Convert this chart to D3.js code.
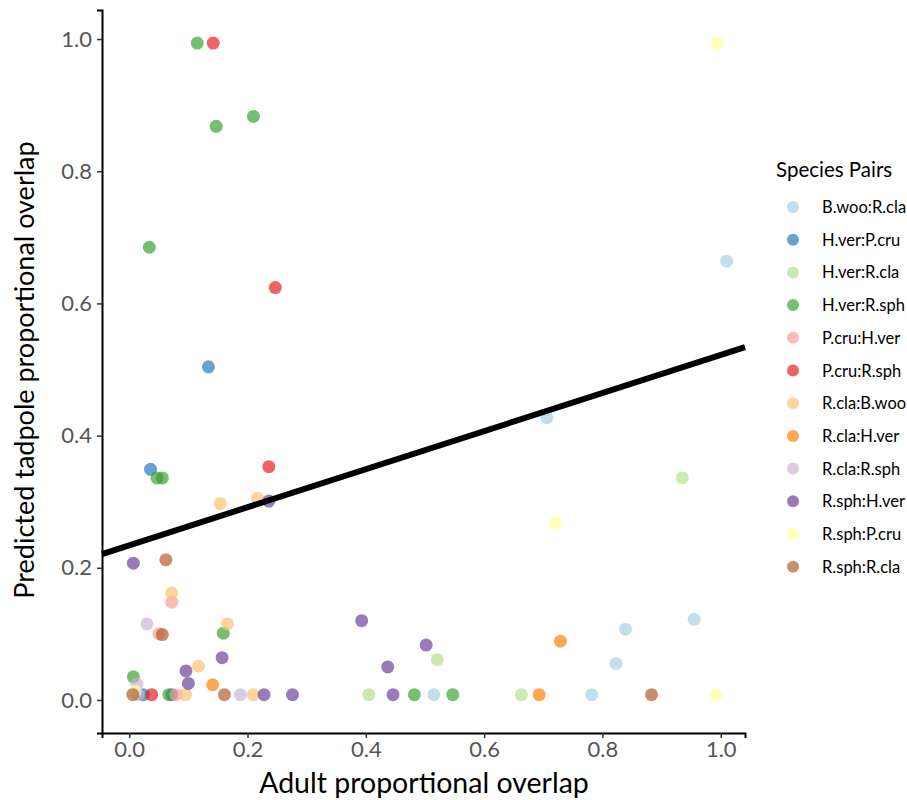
<!DOCTYPE html>
<html>
<head>
<meta charset="utf-8">
<script src="https://cdn.jsdelivr.net/npm/d3@7"></script>
<style>
    body { margin: 0; background: #fff; }
    text { font-family: Lato, "Open Sans", sans-serif; }
</style>
</head>
<body>
<svg id="chart" width="907" height="800"></svg>
<script>
const pairs = [
    "B.woo:R.cla", "H.ver:P.cru", "H.ver:R.cla", "H.ver:R.sph",
    "P.cru:H.ver", "P.cru:R.sph", "R.cla:B.woo", "R.cla:H.ver",
    "R.cla:R.sph", "R.sph:H.ver", "R.sph:P.cru", "R.sph:R.cla"
];
const pairColors = [
    "#a6cee3", "#1f78b4", "#b2df8a", "#33a02c", "#fb9a99", "#e31a1c",
    "#fdbf6f", "#ff7f00", "#cab2d6", "#6a3d9a", "#ffff99", "#b15928"
];
const xTicks = [0, 0.2, 0.4, 0.6, 0.8, 1.0];
const yTicks = [0, 0.2, 0.4, 0.6, 0.8, 1.0];

// [pair, adult overlap, predicted tadpole overlap]
const observations = [
    ["B.woo:R.cla", 1.01, 0.664], ["B.woo:R.cla", 0.706, 0.427], ["B.woo:R.cla", 0.955, 0.122],
    ["B.woo:R.cla", 0.839, 0.107], ["B.woo:R.cla", 0.823, 0.055], ["B.woo:R.cla", 0.782, 0.008],
    ["B.woo:R.cla", 0.515, 0.008],
    ["H.ver:P.cru", 0.134, 0.504], ["H.ver:P.cru", 0.036, 0.349], ["H.ver:P.cru", 0.024, 0.008],
    ["H.ver:P.cru", 0.072, 0.008],
    ["H.ver:R.cla", 0.935, 0.336], ["H.ver:R.cla", 0.521, 0.061], ["H.ver:R.cla", 0.405, 0.008],
    ["H.ver:R.cla", 0.663, 0.008],
    ["H.ver:R.sph", 0.115, 0.994], ["H.ver:R.sph", 0.147, 0.868], ["H.ver:R.sph", 0.210, 0.883],
    ["H.ver:R.sph", 0.034, 0.685], ["H.ver:R.sph", 0.047, 0.336], ["H.ver:R.sph", 0.056, 0.336],
    ["H.ver:R.sph", 0.159, 0.101], ["H.ver:R.sph", 0.007, 0.035], ["H.ver:R.sph", 0.067, 0.008],
    ["H.ver:R.sph", 0.482, 0.008], ["H.ver:R.sph", 0.547, 0.008],
    ["P.cru:H.ver", 0.072, 0.148], ["P.cru:H.ver", 0.050, 0.100], ["P.cru:H.ver", 0.079, 0.008],
    ["P.cru:R.sph", 0.142, 0.994], ["P.cru:R.sph", 0.247, 0.624], ["P.cru:R.sph", 0.236, 0.353],
    ["P.cru:R.sph", 0.038, 0.008],
    ["R.cla:B.woo", 0.154, 0.297], ["R.cla:B.woo", 0.217, 0.305], ["R.cla:B.woo", 0.072, 0.162],
    ["R.cla:B.woo", 0.166, 0.115], ["R.cla:B.woo", 0.117, 0.051], ["R.cla:B.woo", 0.095, 0.008],
    ["R.cla:B.woo", 0.210, 0.008],
    ["R.cla:H.ver", 0.729, 0.089], ["R.cla:H.ver", 0.693, 0.008], ["R.cla:H.ver", 0.141, 0.023],
    ["R.cla:R.sph", 0.030, 0.115], ["R.cla:R.sph", 0.013, 0.024], ["R.cla:R.sph", 0.188, 0.008],
    ["R.cla:R.sph", 0.015, 0.008],
    ["R.sph:H.ver", 0.007, 0.207], ["R.sph:H.ver", 0.236, 0.301], ["R.sph:H.ver", 0.157, 0.064],
    ["R.sph:H.ver", 0.096, 0.044], ["R.sph:H.ver", 0.100, 0.025], ["R.sph:H.ver", 0.228, 0.008],
    ["R.sph:H.ver", 0.276, 0.008], ["R.sph:H.ver", 0.393, 0.120], ["R.sph:H.ver", 0.502, 0.083],
    ["R.sph:H.ver", 0.437, 0.050], ["R.sph:H.ver", 0.446, 0.008],
    ["R.sph:P.cru", 0.994, 0.994], ["R.sph:P.cru", 0.721, 0.268], ["R.sph:P.cru", 0.992, 0.008],
    ["R.sph:P.cru", 0.010, 0.013],
    ["R.sph:R.cla", 0.062, 0.212], ["R.sph:R.cla", 0.056, 0.099], ["R.sph:R.cla", 0.161, 0.008],
    ["R.sph:R.cla", 0.006, 0.008], ["R.sph:R.cla", 0.883, 0.008]
];

// fitted line: intercept, slope
const fit = [0.234, 0.288];

const svg = d3.select("#chart");

const x = d3.scaleLinear().domain([-0.046, 1.041]).range([102, 745]);
const y = d3.scaleLinear().domain([-0.05, 1.044]).range([733, 10]);
const color = d3.scaleOrdinal().domain(pairs).range(pairColors);

// points
svg.append("g")
    .selectAll("circle")
    .data(observations)
    .enter()
    .append("circle")
    .attr("cx", (d) => x(d[1]))
    .attr("cy", (d) => y(d[2]))
    .attr("r", 6.5)
    .attr("fill", (d) => color(d[0]))
    .attr("fill-opacity", 0.68);

// regression line
const xr = x.domain();
svg.append("path")
    .datum(xr.map((v) => [v, fit[0] + fit[1] * v]))
    .attr("d", d3.line().x((d) => x(d[0])).y((d) => y(d[1])))
    .attr("stroke", "#000")
    .attr("stroke-width", 6)
    .attr("fill", "none");

// axes
const xAxis = svg.append("g")
    .attr("transform", "translate(0,733)")
    .call(d3.axisBottom(x).tickValues(xTicks).tickFormat(d3.format(".1f")).tickSize(5).tickPadding(3));
const yAxis = svg.append("g")
    .attr("transform", "translate(102,0)")
    .call(d3.axisLeft(y).tickValues(yTicks).tickFormat(d3.format(".1f")).tickSize(5).tickPadding(5));

[xAxis, yAxis].forEach((a) => {
    a.select(".domain").attr("stroke", "#000").attr("stroke-width", 2);
    a.selectAll(".tick line").attr("stroke", "#333").attr("stroke-width", 1.5);
    a.selectAll(".tick text")
        .attr("fill", "#555")
        .style("font-size", "22px");
});

svg.append("text")
    .attr("x", 424)
    .attr("y", 793)
    .attr("text-anchor", "middle")
    .style("font-size", "28.5px")
    .attr("fill", "#000")
    .text("Adult proportional overlap");

svg.append("text")
    .attr("transform", "translate(34,370) rotate(-90)")
    .attr("text-anchor", "middle")
    .style("font-size", "27px")
    .attr("fill", "#000")
    .text("Predicted tadpole proportional overlap");

// legend
const legend = svg.append("g").attr("transform", "translate(776,0)");
legend.append("text")
    .attr("x", 0)
    .attr("y", 177)
    .style("font-size", "20.5px")
    .attr("fill", "#000")
    .text("Species Pairs");

const item = legend.selectAll(".item")
    .data(pairs)
    .enter()
    .append("g")
    .attr("class", "item")
    .attr("transform", (d, i) => `translate(0,${207 + i * 32.7})`);
item.append("circle")
    .attr("cx", 17)
    .attr("cy", 0)
    .attr("r", 6)
    .attr("fill", (d) => color(d))
    .attr("fill-opacity", 0.68);
item.append("text")
    .attr("x", 46)
    .attr("y", 6)
    .style("font-size", "16.5px")
    .attr("fill", "#000")
    .text((d) => d);
</script>
</body>
</html>
